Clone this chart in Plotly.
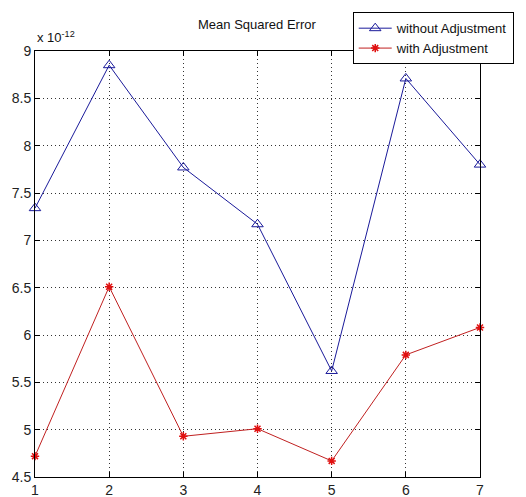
import plotly.graph_objects as go

x_vals = [1, 2, 3, 4, 5, 6, 7]
without_adj = [7.34, 8.85, 7.77, 7.17, 5.62, 8.71, 7.80]
with_adj = [4.72, 6.51, 4.93, 5.01, 4.67, 5.79, 6.08]
y_ticks = [4.5, 5, 5.5, 6, 6.5, 7, 7.5, 8, 8.5, 9]
y_tick_text = ["4.5", "5", "5.5", "6", "6.5", "7", "7.5", "8", "8.5", "9"]

fig = go.Figure()
fig.add_trace(go.Scatter(
    x=x_vals, y=without_adj, mode="lines+markers", name="without Adjustment",
    line=dict(color="#1a1a9a", width=1), cliponaxis=False,
    marker=dict(symbol="triangle-up-open", size=10, color="#1a1a9a", line=dict(width=1, color="#1a1a9a")),
))
fig.add_trace(go.Scatter(
    x=x_vals, y=with_adj, mode="lines+markers", name="with Adjustment",
    line=dict(color="#c02020", width=1), cliponaxis=False,
    marker=dict(symbol="asterisk-open", size=7, color="#e01010", line=dict(width=1.5, color="#e01010")),
))

axis_common = dict(
    showline=True, linecolor="black", linewidth=1, mirror="ticks",
    ticks="inside", ticklen=5, tickcolor="black",
    showgrid=True, gridcolor="#333", griddash="1px,3px", gridwidth=1,
    zeroline=False, automargin=False,
    tickfont=dict(family="Liberation Sans, Arial", size=14, color="#222"),
)

fig.update_xaxes(range=[1, 7], tickvals=x_vals, **axis_common)
fig.update_yaxes(range=[4.5, 9], tickvals=y_ticks, ticktext=y_tick_text, **axis_common)

fig.update_layout(
    width=526, height=497,
    margin=dict(l=35, r=44, t=47, b=20),
    paper_bgcolor="white", plot_bgcolor="white",
    showlegend=True,
    legend=dict(
        x=0.714, y=1.091, xanchor="left", yanchor="top",
        bordercolor="black", borderwidth=1, bgcolor="white",
        font=dict(family="Liberation Sans, Arial", size=13, color="#111"),
        tracegroupgap=0, itemwidth=33,
    ),
    annotations=[
        dict(text="Mean Squared Error", x=(258 - 35) / 447, y=(477 - 20) / 430,
             xref="paper", yref="paper", yanchor="middle",
             showarrow=False, font=dict(family="Liberation Sans, Arial", size=13, color="#111")),
        dict(text="x 10<sup>-12</sup>", x=0, y=1.0, xref="paper", yref="paper",
             xanchor="left", yanchor="bottom", yshift=4, showarrow=False,
             font=dict(family="Liberation Sans, Arial", size=13, color="#111")),
    ],
)

fig.write_html("out.html")
